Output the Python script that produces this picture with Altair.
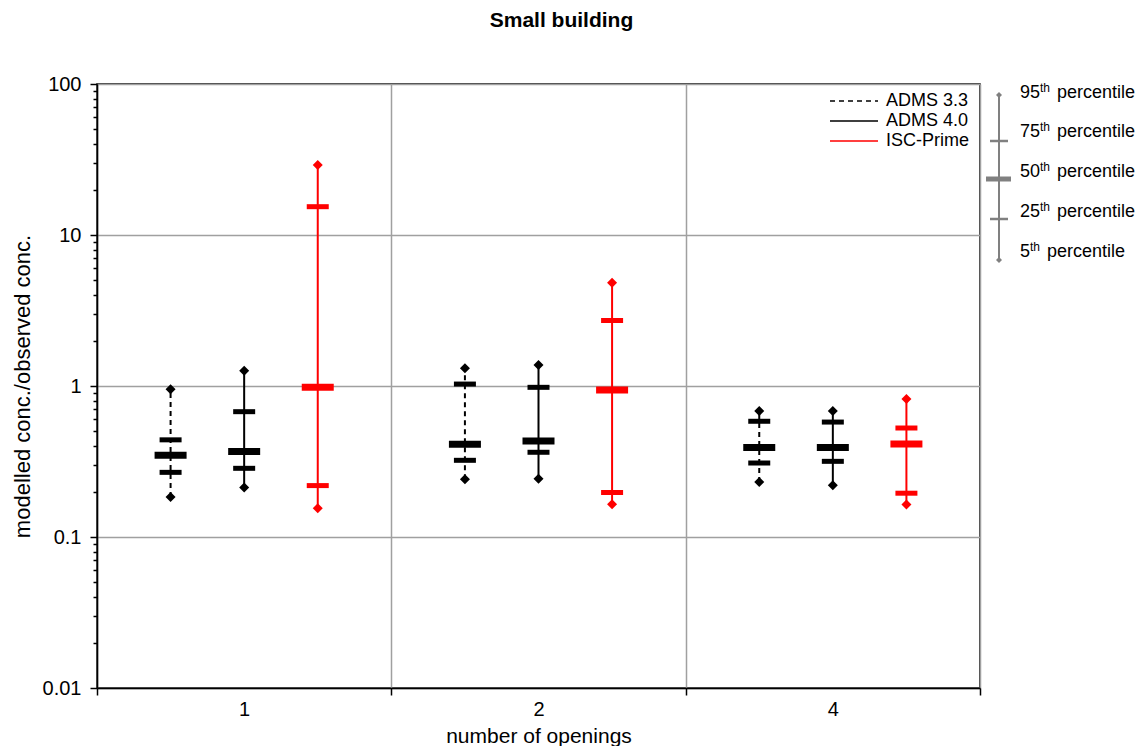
import altair as alt
import pandas as pd

# ---- data ----
groups = ["1", "2", "4"]
series = ["ADMS 3.3", "ADMS 4.0", "ISC-Prime"]
series_colors = ["#000000", "#000000", "#ff0000"]
series_dash = [[5, 4], [1, 0], [1, 0]]
# order: group 1 (ADMS 3.3, ADMS 4.0, ISC-Prime), group 2 (...), group 4 (...)
p5 = [0.184, 0.213, 0.155, 0.241, 0.243, 0.165, 0.231, 0.220, 0.164]
p25 = [0.268, 0.285, 0.219, 0.322, 0.364, 0.197, 0.309, 0.317, 0.195]
p50 = [0.348, 0.369, 0.98, 0.411, 0.432, 0.94, 0.391, 0.391, 0.413]
p75 = [0.44, 0.676, 15.4, 1.03, 0.98, 2.71, 0.584, 0.577, 0.527]
p95 = [0.95, 1.26, 29.1, 1.31, 1.38, 4.83, 0.683, 0.683, 0.82]

major_ticks = [0.01, 0.1, 1, 10, 100]
minor_ticks = [m * 10.0 ** e for e in range(-2, 2) for m in range(2, 10)]

percentile_labels = ["95", "75", "50", "25", "5"]

rows = []
k = 0
for g in groups:
    for s in series:
        rows.append(dict(group=g, series=s, p5=p5[k], p25=p25[k], p50=p50[k], p75=p75[k], p95=p95[k]))
        k += 1
df = pd.DataFrame(rows)

FONT = "Liberation Sans"
GRAY = "#808080"

color_scale = alt.Scale(domain=series, range=series_colors)
dash_scale = alt.Scale(domain=series, range=series_dash)
yscale = alt.Scale(type="log", domain=[0.01, 100], nice=False)

is_major = "abs(log(datum.value)/LN10 - round(log(datum.value)/LN10)) < 0.001"

x_enc = alt.X(
    "group:N",
    sort=groups,
    scale=alt.Scale(paddingInner=0, paddingOuter=0),
    axis=alt.Axis(
        title="number of openings",
        tickBand="extent",
        labelAngle=0,
        tickSize=7,
        labelPadding=4,
        titlePadding=6,
        titleFontSize=21,
        grid=True,
        gridColor="#a0a0a0",
        gridWidth=1.5,
    ),
)
xoff = alt.XOffset("series:N", sort=series, scale=alt.Scale(paddingInner=0, paddingOuter=0.5))

y_axis = alt.Axis(
    title="modelled conc./observed conc.",
    values=sorted(major_ticks + minor_ticks),
    format="~g",
    labelExpr=f"({is_major}) ? datum.label : ''",
    tickSize={"condition": {"test": is_major, "value": 7}, "value": 4},
    gridOpacity={"condition": {"test": is_major, "value": 1}, "value": 0},
    grid=True,
    gridColor="#a0a0a0",
    gridWidth=1.5,
    labelPadding=9,
    titlePadding=8,
    titleFontSize=22,
)

base = alt.Chart(df)
col = alt.Color("series:N", scale=color_scale, legend=None)

rules = base.mark_rule(strokeWidth=2).encode(
    x=x_enc,
    xOffset=xoff,
    y=alt.Y("p5:Q", scale=yscale, axis=y_axis),
    y2="p95:Q",
    color=col,
    strokeDash=alt.StrokeDash("series:N", scale=dash_scale, legend=None),
)

quart25 = base.mark_tick(orient="horizontal", size=22, thickness=5, opacity=1).encode(
    x=x_enc, xOffset=xoff, y=alt.Y("p25:Q", scale=yscale), color=col)
quart75 = base.mark_tick(orient="horizontal", size=22, thickness=5, opacity=1).encode(
    x=x_enc, xOffset=xoff, y=alt.Y("p75:Q", scale=yscale), color=col)
median = base.mark_tick(orient="horizontal", size=32, thickness=7, opacity=1).encode(
    x=x_enc, xOffset=xoff, y=alt.Y("p50:Q", scale=yscale), color=col)
d5 = base.mark_point(shape="diamond", filled=True, size=100, opacity=1).encode(
    x=x_enc, xOffset=xoff, y=alt.Y("p5:Q", scale=yscale), color=col)
d95 = base.mark_point(shape="diamond", filled=True, size=100, opacity=1).encode(
    x=x_enc, xOffset=xoff, y=alt.Y("p95:Q", scale=yscale), color=col)

one = alt.InlineData(values=[{"k": 0}])

# ---- series legend (inside, top right) ----
legend = []
for i, (s, c, d) in enumerate(zip(series, series_colors, series_dash)):
    ly = 17 + 20 * i
    legend.append(alt.Chart(one).mark_rule(strokeWidth=1.5, color=c, strokeDash=d).encode(
        x=alt.value(733), x2=alt.value(781), y=alt.value(ly)))
    legend.append(alt.Chart(one).mark_text(align="left", baseline="middle", fontSize=18, font=FONT, color="black").encode(
        x=alt.value(789), y=alt.value(ly), text=alt.value(s)))

# ---- percentile key to the right of the plot ----
KX = 902
guide = [
    alt.Chart(one).mark_rule(strokeWidth=2, color=GRAY).encode(
        x=alt.value(KX), y=alt.value(11), y2=alt.value(176)),
    alt.Chart(one).mark_point(shape="diamond", filled=True, size=36, color=GRAY, opacity=1).encode(
        x=alt.value(KX), y=alt.value(11)),
    alt.Chart(one).mark_point(shape="diamond", filled=True, size=36, color=GRAY, opacity=1).encode(
        x=alt.value(KX), y=alt.value(176)),
    alt.Chart(one).mark_rule(strokeWidth=2.5, color=GRAY).encode(
        x=alt.value(KX - 9), x2=alt.value(KX + 9), y=alt.value(57)),
    alt.Chart(one).mark_rule(strokeWidth=5, color=GRAY).encode(
        x=alt.value(KX - 13), x2=alt.value(KX + 12), y=alt.value(95)),
    alt.Chart(one).mark_rule(strokeWidth=2.5, color=GRAY).encode(
        x=alt.value(KX - 9), x2=alt.value(KX + 9), y=alt.value(135)),
]
text_y = [9, 48, 88, 128, 168]
for lab, ty in zip(percentile_labels, text_y):
    w = 10 if len(lab) == 1 else 20
    guide.append(alt.Chart(one).mark_text(align="left", baseline="middle", fontSize=18, font=FONT, color="black").encode(
        x=alt.value(923), y=alt.value(ty), text=alt.value(lab)))
    guide.append(alt.Chart(one).mark_text(align="left", baseline="middle", fontSize=12, font=FONT, color="black").encode(
        x=alt.value(923 + w), y=alt.value(ty - 5), text=alt.value("th")))
    guide.append(alt.Chart(one).mark_text(align="left", baseline="middle", fontSize=18, font=FONT, color="black").encode(
        x=alt.value(923 + w + 17), y=alt.value(ty), text=alt.value("percentile")))

chart = alt.layer(rules, quart25, quart75, median, d5, d95, *legend, *guide).properties(
    width=883,
    height=604,
    padding={"left": 3, "top": 2, "right": 0, "bottom": 0},
    title=alt.Title("Small building", fontSize=21, fontWeight="bold", font=FONT,
                    color="black", offset=43, dx=23, anchor="middle"),
).configure_view(
    stroke="black", strokeWidth=1.5
).configure_axis(
    labelFont=FONT, titleFont=FONT, labelFontSize=20,
    titleFontWeight="normal", labelColor="black", titleColor="black",
    domainColor="black", tickColor="black", domainWidth=1.5, tickWidth=1.5,
)

chart.save("out.html", embed_options={"renderer": "svg", "actions": False})
